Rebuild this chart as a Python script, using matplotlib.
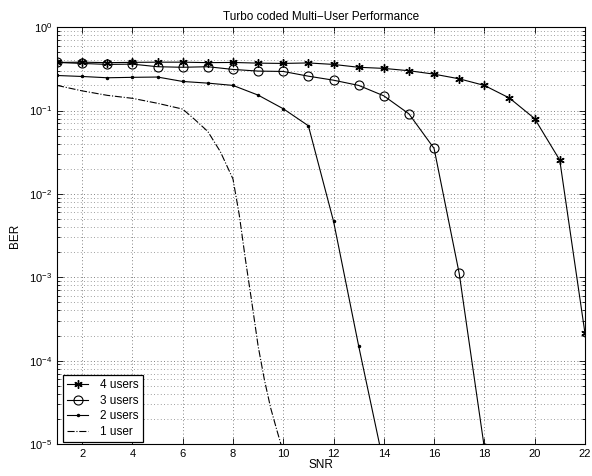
import numpy as np
import matplotlib
matplotlib.use("Agg")
import matplotlib.pyplot as plt
from matplotlib.ticker import LogLocator, NullFormatter

plt.rcParams["font.family"] = ["Liberation Sans", "DejaVu Sans"]

# Données
snr_4 = list(range(1, 23))
ber_4 = [0.377, 0.38, 0.375, 0.378, 0.38, 0.38, 0.375, 0.377, 0.37, 0.367,
         0.372, 0.357, 0.33, 0.32, 0.30, 0.273, 0.24, 0.20, 0.141, 0.080,
         0.0254, 2.16e-4]

snr_3 = list(range(1, 19))
ber_3 = [0.377, 0.367, 0.357, 0.36, 0.335, 0.33, 0.335, 0.311, 0.297, 0.294,
         0.258, 0.231, 0.20, 0.150, 0.0912, 0.0351, 1.11e-3, 9e-6]

snr_2 = list(range(1, 15))
ber_2 = [0.263, 0.256, 0.247, 0.25, 0.252, 0.223, 0.213, 0.20, 0.153, 0.105,
         0.0656, 4.7e-3, 1.5e-4, 5.7e-6]

snr_1 = [1, 2, 3, 4, 5, 6, 6.5, 7, 7.5, 8, 8.25, 8.5, 8.75, 9, 9.25, 9.5,
         9.75, 10]
ber_1 = [0.2, 0.172, 0.152, 0.14, 0.122, 0.104, 0.077, 0.056, 0.032, 0.0151,
         5.6e-3, 1.6e-3, 5e-4, 1.5e-4, 5.9e-5, 2.7e-5, 1.45e-5, 8e-6]

fig = plt.figure(figsize=(5.92, 4.76), dpi=100)
ax = fig.add_axes([0.0963, 0.0672, 0.8917, 0.8758])

asterisk = (6, 2, 0)
ax.semilogy(snr_4, ber_4, "k-", marker=asterisk, markersize=6,
            linewidth=0.8, label="4 users")
ax.semilogy(snr_3, ber_3, "k-", marker="o", markersize=6.5,
            markerfacecolor="none", markeredgewidth=0.8,
            linewidth=0.8, label="3 users")
ax.semilogy(snr_2, ber_2, "k-", marker=".", markersize=3,
            linewidth=0.8, label="2 users")
ax.semilogy(snr_1, ber_1, "k-.", linewidth=0.8, label="1 user")

ax.set_xlim(1, 22)
ax.set_ylim(1e-5, 1)
ax.set_xticks(range(2, 23, 2))
ax.yaxis.set_major_locator(LogLocator(base=10, numticks=10))
ax.yaxis.set_minor_locator(LogLocator(base=10, subs=np.arange(2, 10),
                                      numticks=10))
ax.yaxis.set_minor_formatter(NullFormatter())

ax.grid(True, which="major", linestyle=(0, (1, 3)), color="0.35",
        linewidth=0.6)
ax.grid(True, which="minor", axis="y", linestyle=(0, (1, 3)), color="0.5",
        linewidth=0.6)

ax.tick_params(which="both", direction="in", top=True, right=True,
               labelsize=8, width=0.6)
ax.tick_params(which="major", length=4)
ax.tick_params(which="minor", length=2)
for s in ax.spines.values():
    s.set_linewidth(0.8)

ax.set_title("Turbo coded Multi\u2212User Performance", fontsize=8.5, pad=5)
ax.set_xlabel("SNR", fontsize=8.5, labelpad=0)
ax.set_ylabel("BER", fontsize=8.5, labelpad=6)

leg = ax.legend(loc="lower left", bbox_to_anchor=(0.011, 0.005),
                borderaxespad=0, fontsize=8.5, fancybox=False,
                edgecolor="black", framealpha=1,
                handlelength=1.8, handletextpad=1.0, labelspacing=0.3,
                borderpad=0.35)
leg.get_frame().set_linewidth(0.9)

plt.savefig("out.png", dpi=100)
